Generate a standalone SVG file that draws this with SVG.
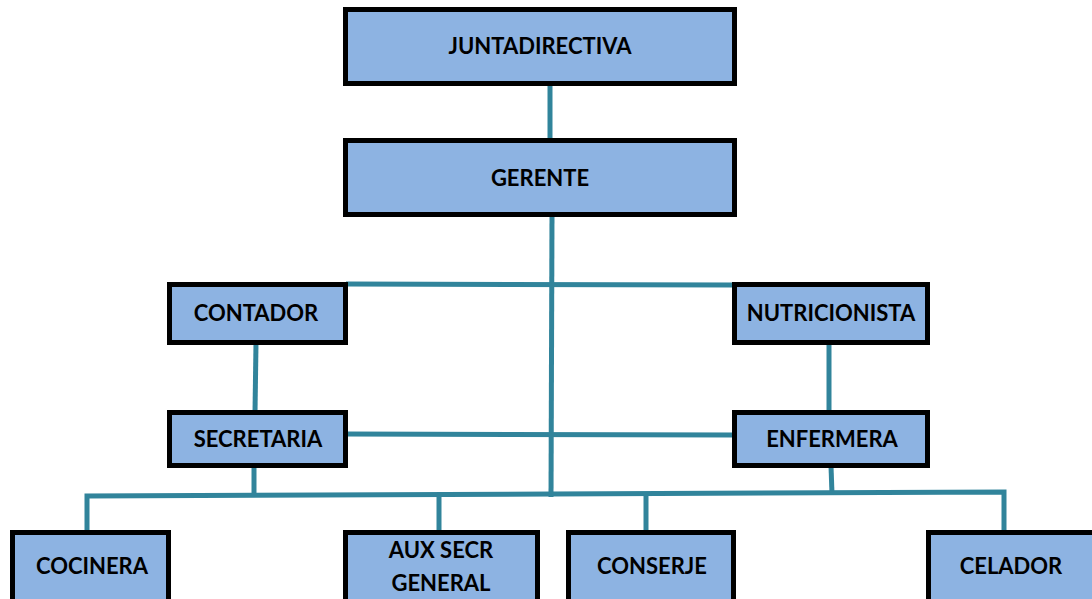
<svg xmlns="http://www.w3.org/2000/svg" width="1092" height="599" viewBox="0 0 1092 599">
<style>
.box{fill:#8DB3E2;stroke:#000;stroke-width:5}
.lbl{font-family:Lato,"Liberation Sans",sans-serif;font-weight:bold;font-size:22px;fill:#000;text-anchor:middle}
.ln{stroke:#31849B;stroke-width:5;fill:none;stroke-linecap:butt}
</style>
<rect width="1092" height="599" fill="#fff"/>
<g id="connectors">
<line class="ln" x1="550" y1="84" x2="550" y2="141"/>
<line class="ln" x1="552" y1="215" x2="551" y2="497"/>
<line class="ln" x1="346" y1="284" x2="734" y2="285"/>
<line class="ln" x1="256" y1="343" x2="255" y2="412"/>
<line class="ln" x1="829" y1="343" x2="829" y2="412"/>
<line class="ln" x1="346" y1="434" x2="734" y2="435"/>
<line class="ln" x1="254" y1="466" x2="254" y2="496"/>
<line class="ln" x1="831" y1="466" x2="832" y2="494"/>
<polyline class="ln" points="87,532 87,496 552,494 1004,492 1004,532"/>
<line class="ln" x1="439" y1="495" x2="439" y2="532"/>
<line class="ln" x1="646" y1="494" x2="646" y2="532"/>
</g>
<g id="juntadirectiva"><rect class="box" x="345.5" y="9.5" width="389" height="74"/><text class="lbl" x="540" y="54">JUNTADIRECTIVA</text></g>
<g id="gerente"><rect class="box" x="345.5" y="140.5" width="389" height="74"/><text class="lbl" x="540" y="186">GERENTE</text></g>
<g id="contador"><rect class="box" x="169.5" y="284.5" width="176" height="58"/><text class="lbl" x="256" y="321">CONTADOR</text></g>
<g id="nutricionista"><rect class="box" x="734.5" y="284.5" width="193" height="58"/><text class="lbl" x="831" y="321">NUTRICIONISTA</text></g>
<g id="secretaria"><rect class="box" x="169.5" y="412.5" width="176" height="53"/><text class="lbl" x="258" y="447">SECRETARIA</text></g>
<g id="enfermera"><rect class="box" x="734.5" y="412.5" width="193" height="53"/><text class="lbl" x="832" y="447">ENFERMERA</text></g>
<g id="cocinera"><rect class="box" x="12.5" y="532.5" width="156" height="80"/><text class="lbl" x="92" y="574">COCINERA</text></g>
<g id="auxsecr"><rect class="box" x="345.5" y="532.5" width="192" height="80"/><text class="lbl" x="441" y="558">AUX SECR</text><text class="lbl" x="441" y="591">GENERAL</text></g>
<g id="conserje"><rect class="box" x="568.5" y="532.5" width="165" height="80"/><text class="lbl" x="652" y="574">CONSERJE</text></g>
<g id="celador"><rect class="box" x="928.5" y="532.5" width="170" height="80"/><text class="lbl" x="1011" y="574">CELADOR</text></g>
</svg>
